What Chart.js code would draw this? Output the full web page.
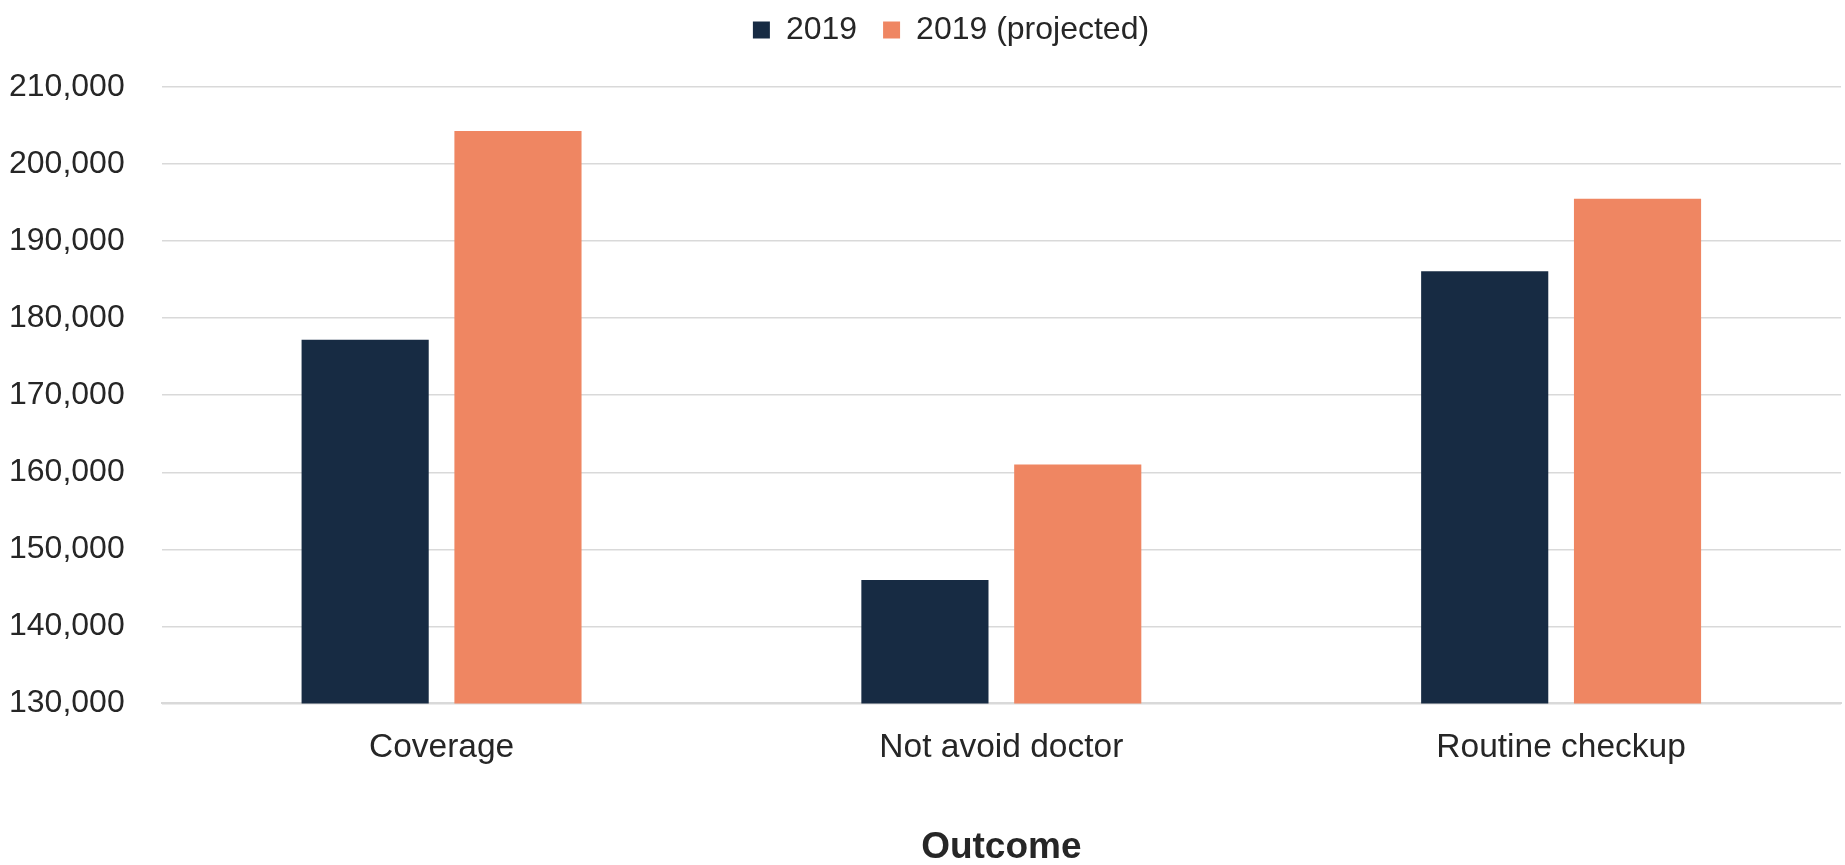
<!DOCTYPE html>
<html>
<head>
<meta charset="utf-8">
<title>Outcome</title>
<script src="https://cdn.jsdelivr.net/npm/chart.js@4"></script>
<style>
  html, body { margin: 0; padding: 0; background: #fff; }
  #wrap { width: 1845px; height: 865px; position: relative; }
</style>
</head>
<body>
<div id="wrap"><canvas id="outcomeChart"></canvas></div>
<script>
// Data
const categories = ['Coverage', 'Not avoid doctor', 'Routine checkup'];
const seriesNames = ['2019', '2019 (projected)'];
const values2019 = [177200, 146000, 186100];
const valuesProjected = [204300, 161000, 195500];
const yMin = 130000;
const yMax = 210000;
const yStep = 10000;

const navy = '#172b43';
const coral = '#ef8662';
const textColor = '#262626';
const gridColor = '#d9d9d9';
const fontFamily = '"Liberation Sans", Arial, sans-serif';
const yTickPad = 37;

// extra room under the legend row, and nudge it a little to the right
const legendSpacing = {
  id: 'legendSpacing',
  beforeInit(chart) {
    const fit = chart.legend.fit;
    chart.legend.fit = function () {
      fit.call(this);
      this.height += 31;
    };
  },
  afterLayout(chart) {
    chart.legend.left += 26;
    chart.legend.right += 26;
  }
};

const ctx = document.getElementById('outcomeChart').getContext('2d');
new Chart(ctx, {
  type: 'bar',
  data: {
    labels: categories,
    datasets: [
      {
        label: seriesNames[0],
        data: values2019,
        backgroundColor: navy
      },
      {
        label: seriesNames[1],
        data: valuesProjected,
        backgroundColor: coral
      }
    ]
  },
  plugins: [legendSpacing],
  options: {
    responsive: true,
    maintainAspectRatio: false,
    animation: false,
    categoryPercentage: 0.546,
    barPercentage: 0.832,
    layout: {
      padding: { left: 9, right: 4, top: -12, bottom: -5 }
    },
    plugins: {
      legend: {
        position: 'top',
        labels: {
          color: textColor,
          font: { family: fontFamily, size: 32 },
          boxWidth: 17,
          boxHeight: 17,
          padding: 26
        }
      },
      tooltip: { enabled: false }
    },
    scales: {
      x: {
        grid: { display: false, drawTicks: false },
        border: { color: gridColor, width: 2 },
        ticks: {
          color: textColor,
          font: { family: fontFamily, size: 33.5 },
          padding: 24
        },
        title: {
          display: true,
          text: 'Outcome',
          color: textColor,
          font: { family: fontFamily, size: 37, weight: 'bold' },
          padding: { top: 34, bottom: 0 }
        }
      },
      y: {
        min: yMin,
        max: yMax,
        grid: { color: gridColor, lineWidth: 1.5, drawTicks: false },
        border: { display: false },
        ticks: {
          stepSize: yStep,
          color: textColor,
          font: { family: fontFamily, size: 32 },
          padding: yTickPad,
          callback: v => v.toLocaleString('en-US')
        },
        afterFit: scale => {
          scale.width -= yTickPad;
        }
      }
    }
  }
});
</script>
</body>
</html>
